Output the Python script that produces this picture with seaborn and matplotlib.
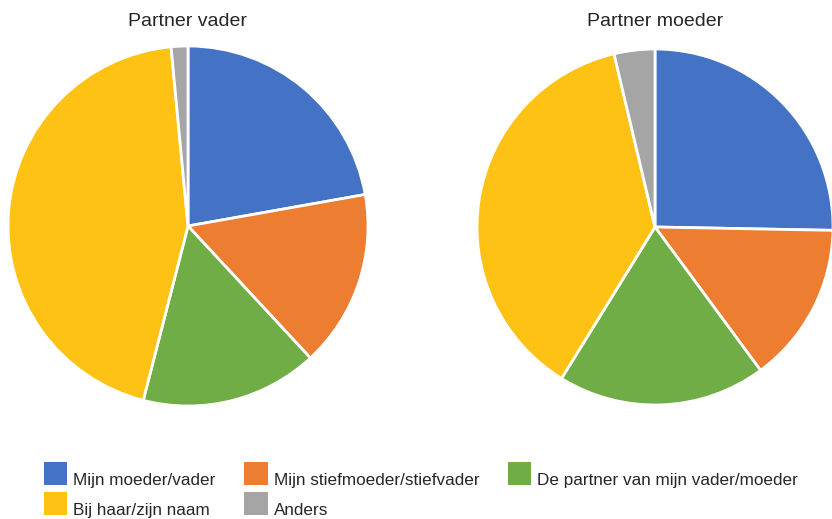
import matplotlib
matplotlib.use("Agg")
import matplotlib.pyplot as plt
from matplotlib.patches import Patch, Rectangle
from matplotlib.legend_handler import HandlerPatch
import seaborn as sns

categories = ["Mijn moeder/vader", "Mijn stiefmoeder/stiefvader",
              "De partner van mijn vader/moeder", "Bij haar/zijn naam", "Anders"]
partner_vader = [22.2, 15.9, 15.9, 44.5, 1.5]
partner_moeder = [25.3, 14.6, 18.9, 37.5, 3.7]
titles = ["Partner vader", "Partner moeder"]
colors = ["#4472C4", "#ED7D31", "#70AD47", "#FDC213", "#A5A5A5"]

sns.set_theme(style="white")
plt.rcParams['font.family'] = ['Liberation Sans', 'DejaVu Sans']
palette = sns.color_palette(colors)

W, H = 832, 519
fig = plt.figure(figsize=(W / 100, H / 100), dpi=100)

def add_pie(cx, cy, r, values, title):
    ax = fig.add_axes([(cx - r) / W, (H - cy - r) / H, 2 * r / W, 2 * r / H])
    ax.pie(values, colors=palette, startangle=90, counterclock=False, radius=1,
           wedgeprops=dict(edgecolor="white", linewidth=2))
    ax.set_xlim(-1, 1)
    ax.set_ylim(-1, 1)
    ax.set_axis_off()
    fig.text(cx / W, 1 - 21 / H, title, ha="center", va="center",
             fontsize=14, color="#262626")

add_pie(188, 226, 180, partner_vader, titles[0])
add_pie(655, 227, 178, partner_moeder, titles[1])

SHIFT_PT = 4.0  # raise squares relative to label baseline

def raised_square(legend, orig_handle, xdescent, ydescent, width, height, fontsize):
    return Rectangle(xy=(-xdescent, -ydescent + SHIFT_PT), width=width, height=height)

handles = [Patch(facecolor=c, edgecolor="none") for c in palette]
order = [0, 3, 1, 4, 2]
leg = fig.legend([handles[i] for i in order], [categories[i] for i in order],
                 ncol=3, loc="upper left", bbox_to_anchor=(44 / W, 1 - 468 / H),
                 frameon=False, fontsize=12.3, handlelength=1.35, handleheight=1.63,
                 handletextpad=0.35, columnspacing=1.7, labelspacing=0.45,
                 borderpad=0, borderaxespad=0,
                 handler_map={Patch: HandlerPatch(patch_func=raised_square)})
for t in leg.get_texts():
    t.set_color("#262626")

fig.savefig("out.png", dpi=100)
